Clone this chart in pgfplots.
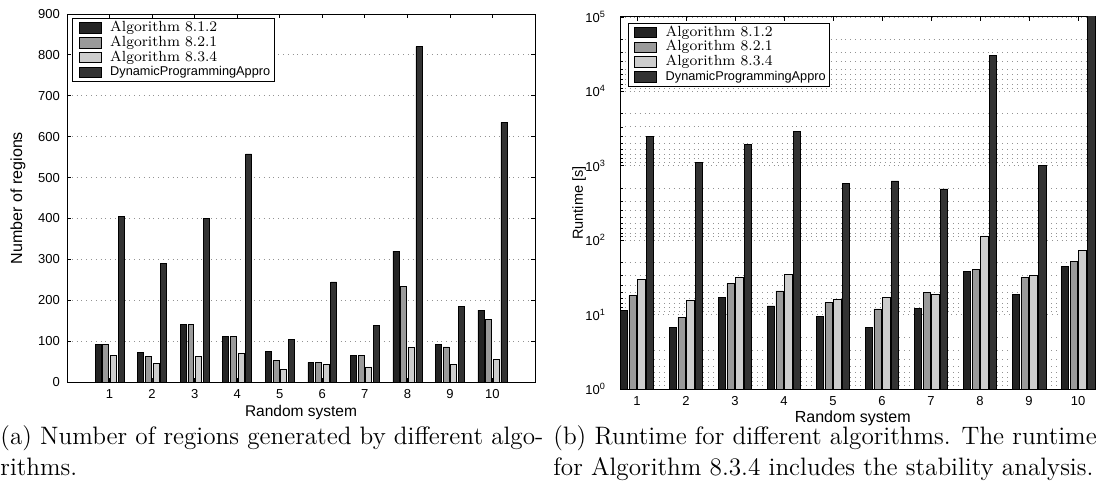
\documentclass[border=0pt]{standalone}
\usepackage{pgfplots}
\pgfplotsset{compat=1.18}
\usepackage{fontspec}
\setsansfont{Liberation Sans}
\definecolor{cA}{HTML}{242424}
\definecolor{cB}{HTML}{9A9A9A}
\definecolor{cC}{HTML}{CDCDCD}
\definecolor{cD}{HTML}{333333}
\newcommand{\lr}[1]{\resizebox{53.5pt}{!}{\fontsize{7.8}{8}\selectfont #1}}
\newcommand{\ls}[1]{\resizebox{80pt}{!}{\sffamily\fontsize{6.4}{7}\selectfont #1}}
\pgfplotsset{
  sw/.style={legend image code/.code={\path (-1.5pt,0) (15pt,0);\draw[##1,line width=0.4pt] (0pt,-2.6pt) rectangle (11pt,2.6pt);}},
  common/.style={
    scale only axis,
    anchor=south west,
    ybar,
    tick align=inside,
    major tick length=2pt,
    minor tick length=1.5pt,
    axis line style={line width=0.5pt},
    every tick/.style={line width=0.4pt, black},
    ticklabel style={font=\sffamily\fontsize{6.5}{7}\selectfont},
    /pgf/number format/assume math mode=true,
    label style={font=\sffamily\fontsize{7.8}{9}\selectfont},
    xtick={1,2,3,4,5,6,7,8,9,10},
    grid style={dotted, gray!85, line width=0.45pt},
    minor grid style={dotted, gray!85, line width=0.45pt},
    legend cell align=left,
    legend style={draw=black, line width=0.5pt, inner xsep=1.5pt, inner ysep=1pt,
      nodes={inner sep=0.5pt, text height=5pt, text depth=1.4pt}},
  },
}
\begin{document}
\begin{tikzpicture}
\path[use as bounding box] (0,0) rectangle (548.5pt,241.5pt);

% ---------------- left panel ----------------
\begin{axis}[common,
  at={(33.5pt,50.5pt)}, width=234pt, height=184pt,
  xmin=0, xmax=11, ymin=0, ymax=900,
  ytick={0,100,200,300,400,500,600,700,800,900},
  ymajorgrids,
  bar width=0.14,
  xlabel={\resizebox{56pt}{!}{Random system}}, ylabel={\resizebox{66pt}{!}{Number of regions}},
  xlabel style={at={(axis description cs:0.5,-0.0815)}, anchor=center},
  ylabel style={at={(axis description cs:-0.105,0.5)}, anchor=center},
  legend style={at={(0.011,0.989)}, anchor=north west},
]
\addplot[sw, bar shift=-0.27, fill=cA, draw=black, line width=0.3pt] coordinates
 {(1,92) (2,72) (3,140) (4,112) (5,75) (6,48) (7,66) (8,320) (9,92) (10,176)};
\addplot[sw, bar shift=-0.09, fill=cB, draw=black, line width=0.3pt] coordinates
 {(1,91) (2,62) (3,140) (4,112) (5,52) (6,48) (7,66) (8,234) (9,86) (10,154)};
\addplot[sw, bar shift=0.09, fill=cC, draw=black, line width=0.3pt] coordinates
 {(1,66) (2,45) (3,62) (4,70) (5,31) (6,44) (7,37) (8,85) (9,43) (10,56)};
\addplot[sw, bar shift=0.27, fill=cD, draw=black, line width=0.3pt] coordinates
 {(1,405) (2,290) (3,400) (4,558) (5,104) (6,245) (7,139) (8,820) (9,184) (10,635)};
\legend{{\lr{Algorithm 8.1.2}}, {\lr{Algorithm 8.2.1}}, {\lr{Algorithm 8.3.4}}, {\ls{DynamicProgrammingAppro}}}
\end{axis}

% ---------------- right panel ----------------
\begin{axis}[common,
  at={(310pt,47pt)}, width=237.5pt, height=186pt,
  xmin=0.655, xmax=10.345,
  ymode=log, ymin=1, ymax=100000,
  ytick={1,10,100,1000,10000,100000},
  yticklabels={10\textsuperscript{0},10\textsuperscript{1},10\textsuperscript{2},10\textsuperscript{3},10\textsuperscript{4},10\textsuperscript{5}},
  yticklabel style={xshift=-3.5pt},
  minor ytick={5,3.333,2.5,2,1.667,1.4286,1.25,1.1111,
    50,33.33,25,20,16.67,14.286,12.5,11.111,
    500,333.3,250,200,166.7,142.86,125,111.11,
    5000,3333,2500,2000,1667,1428.6,1250,1111.1,
    50000,33333,25000,20000,16667,14286,12500,11111},
  ymajorgrids, yminorgrids,
  bar width=0.15,
  xlabel={\resizebox{58pt}{!}{Random system}}, ylabel={\resizebox{36.7pt}{!}{Runtime [s]}},
  xlabel style={at={(axis description cs:0.49,-0.078)}, anchor=center},
  ylabel style={at={(axis description cs:-0.086,0.5)}, anchor=center},
  legend style={at={(0.016,0.985)}, anchor=north west},
]
\addplot[sw, bar shift=-0.266, fill=cA, draw=black, line width=0.3pt] coordinates
 {(1,11.5) (2,6.7) (3,16.9) (4,13.1) (5,9.4) (6,6.8) (7,12) (8,38.2) (9,18.7) (10,44)};
\addplot[sw, bar shift=-0.089, fill=cB, draw=black, line width=0.3pt] coordinates
 {(1,17.9) (2,9.2) (3,26) (4,20.8) (5,14.5) (6,11.9) (7,19.7) (8,41) (9,31.3) (10,52)};
\addplot[sw, bar shift=0.089, fill=cC, draw=black, line width=0.3pt] coordinates
 {(1,29.8) (2,15.4) (3,31.7) (4,34.8) (5,16.1) (6,17.2) (7,18.5) (8,114) (9,34) (10,73.8)};
\addplot[sw, bar shift=0.266, fill=cD, draw=black, line width=0.3pt] coordinates
 {(1,2500) (2,1100) (3,1960) (4,2870) (5,587) (6,625) (7,488) (8,30800) (9,1025) (10,120000)};
\legend{{\lr{Algorithm 8.1.2}}, {\lr{Algorithm 8.2.1}}, {\lr{Algorithm 8.3.4}}, {\ls{DynamicProgrammingAppro}}}
\end{axis}

% ---------------- captions ----------------
\begin{scope}[every node/.style={anchor=base west, inner sep=0pt, font=\fontsize{12.6}{14}\selectfont}]
\node at (0pt,19.5pt) {(a) Number of regions generated by different algo-};
\node at (0pt,4pt) {rithms.};
\node at (276.5pt,19.5pt) {(b) Runtime for different algorithms. The runtime};
\node at (276.5pt,4pt) {for Algorithm 8.3.4 includes the stability analysis.};
\end{scope}
\end{tikzpicture}
\end{document}
